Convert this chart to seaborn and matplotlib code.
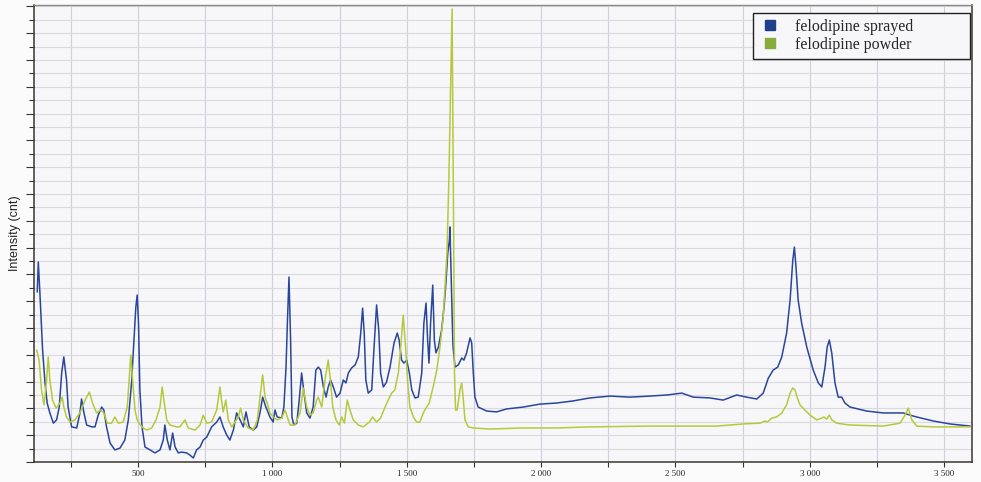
import matplotlib
matplotlib.use("Agg")
import matplotlib.pyplot as plt
from matplotlib.lines import Line2D
from matplotlib.ticker import MultipleLocator, FuncFormatter, NullFormatter
import pandas as pd
import seaborn as sns

# Raman spectra (wavenumber in cm-1, intensity in cnt)
sprayed_wavenumber = [
    125, 129, 135, 145, 154, 162, 172, 185, 197, 207, 216, 224, 234, 240, 253, 272,
    284, 290, 299, 309, 328, 340, 352, 365, 373, 383, 396, 414, 433, 451, 464, 476,
    485, 492, 497, 502, 507, 515, 526, 545, 563, 582, 594, 600, 609, 619, 629, 638,
    650, 662, 681, 693, 706, 718, 731, 743, 756, 774, 793, 805, 817, 830, 842, 855,
    867, 880, 892, 902, 914, 929, 942, 954, 964, 976, 991, 1003, 1010, 1018, 1035, 1043,
    1051, 1056, 1062, 1068, 1073, 1080, 1091, 1100, 1109, 1118, 1128, 1140, 1152, 1162, 1171, 1180,
    1190, 1200, 1208, 1217, 1227, 1239, 1252, 1264, 1274, 1283, 1295, 1308, 1320, 1329, 1336, 1342,
    1348, 1357, 1370, 1378, 1388, 1396, 1403, 1413, 1425, 1438, 1453, 1465, 1472, 1481, 1490, 1500,
    1510, 1519, 1531, 1543, 1556, 1564, 1572, 1578, 1583, 1589, 1597, 1603, 1609, 1618, 1630, 1639,
    1646, 1653, 1659, 1661, 1667, 1672, 1680, 1692, 1705, 1713, 1723, 1736, 1742, 1748, 1754, 1766,
    1798, 1835, 1872, 1934, 1996, 2058, 2120, 2182, 2257, 2331, 2406, 2468, 2524, 2567, 2629, 2678,
    2728, 2765, 2803, 2827, 2846, 2864, 2881, 2896, 2914, 2927, 2937, 2943, 2949, 2957, 2970, 2989,
    3013, 3032, 3045, 3057, 3065, 3073, 3082, 3094, 3106, 3119, 3131, 3150, 3212, 3274, 3348, 3373,
    3398, 3460, 3522, 3597,
]
sprayed_intensity = [
    6340, 7460, 6300, 4180, 2950, 2200, 1830, 1450, 1570, 2050, 3320, 3920, 3060, 2050, 1310, 1270,
    1830, 2350, 1830, 1380, 1310, 1310, 1750, 2050, 1940, 1310, 710, 450, 520, 820, 1570, 2950,
    4550, 5780, 6230, 5180, 2690, 1310, 560, 450, 340, 450, 820, 1380, 820, 450, 1080, 560,
    340, 370, 340, 260, 150, 450, 560, 820, 930, 1310, 1490, 1680, 1310, 1010, 820, 1190,
    1830, 1570, 1310, 1870, 1310, 1190, 1310, 1830, 2420, 2050, 1680, 1490, 1940, 1680, 1640, 2050,
    3540, 5180, 6900, 4550, 1680, 1380, 1450, 2310, 3320, 2570, 1830, 1640, 2050, 3430, 3540, 3430,
    2800, 2420, 2800, 3060, 2800, 2420, 2570, 3060, 2950, 3320, 3510, 3620, 3920, 4810, 5740, 4810,
    3060, 2570, 2690, 4180, 5860, 4920, 3320, 2800, 2980, 3540, 4440, 4810, 4550, 3800, 3690, 3800,
    3320, 2690, 2390, 2420, 3320, 5180, 5930, 4550, 3690, 5180, 6600, 4550, 4070, 4290, 4920, 5780,
    6680, 7800, 8280, 8770, 6420, 4360, 3540, 3620, 3880, 3800, 4070, 4630, 4440, 3320, 2420, 2050,
    1900, 1870, 1980, 2050, 2160, 2200, 2280, 2390, 2460, 2420, 2460, 2500, 2570, 2420, 2390, 2310,
    2500, 2420, 2350, 2570, 3130, 3430, 3540, 3920, 4810, 6040, 7530, 8020, 7270, 6040, 5180, 4290,
    3430, 2950, 2800, 3540, 4290, 4550, 4070, 2950, 2420, 2420, 2200, 2050, 1900, 1830, 1830, 1750,
    1680, 1530, 1420, 1340,
]

powder_wavenumber = [
    123, 132, 141, 150, 160, 166, 172, 182, 195, 210, 218, 224, 234, 247, 265, 284,
    303, 319, 331, 346, 361, 373, 386, 402, 414, 427, 445, 460, 467, 473, 480, 489,
    497, 514, 532, 551, 567, 582, 590, 598, 607, 619, 644, 656, 675, 687, 712, 731,
    743, 756, 774, 793, 805, 811, 817, 827, 836, 849, 861, 873, 882, 892, 910, 929,
    944, 954, 964, 973, 981, 991, 1003, 1018, 1035, 1047, 1056, 1066, 1084, 1103, 1115, 1128,
    1140, 1152, 1165, 1171, 1184, 1196, 1208, 1215, 1225, 1237, 1249, 1258, 1268, 1279, 1289, 1301,
    1320, 1338, 1361, 1373, 1388, 1403, 1415, 1431, 1444, 1456, 1469, 1478, 1487, 1496, 1504, 1512,
    1525, 1537, 1549, 1562, 1574, 1584, 1593, 1602, 1612, 1624, 1635, 1642, 1650, 1657, 1669, 1674,
    1678, 1682, 1688, 1698, 1705, 1711, 1717, 1729, 1748, 1810, 1934, 2058, 2182, 2406, 2654, 2753,
    2815, 2834, 2842, 2859, 2877, 2896, 2914, 2927, 2937, 2945, 2954, 2964, 2982, 3001, 3026, 3045,
    3053, 3063, 3073, 3082, 3100, 3150, 3274, 3336, 3355, 3367, 3380, 3398, 3460, 3597,
]
powder_intensity = [
    4180, 3800, 2690, 2130, 3060, 3920, 3060, 2310, 2010, 2200, 2420, 2050, 1680, 1490, 1570, 1830,
    2310, 2610, 2200, 1830, 1940, 1830, 1450, 1450, 1680, 1450, 1490, 2050, 3060, 3990, 3060, 1940,
    1570, 1310, 1190, 1270, 1570, 2050, 2800, 2200, 1570, 1380, 1310, 1310, 1570, 1270, 1190, 1380,
    1750, 1450, 1490, 1940, 2800, 2310, 1870, 2310, 1570, 1310, 1490, 1680, 2010, 1570, 1270, 1190,
    1570, 2420, 3250, 2420, 2200, 1830, 1680, 1570, 1640, 1940, 1680, 1380, 1380, 1830, 2760, 2050,
    1750, 1830, 2310, 2420, 2050, 3060, 3800, 3170, 2050, 1570, 1380, 1680, 1450, 2310, 1940, 1570,
    1380, 1310, 1490, 1680, 1490, 1640, 1940, 2310, 2570, 2690, 3320, 4290, 5480, 4290, 2950, 2050,
    1680, 1490, 1490, 1830, 2050, 2200, 2570, 2950, 3430, 4290, 5300, 6420, 7800, 10520, 16900, 9770,
    3320, 1940, 1940, 2690, 2950, 2310, 1570, 1310, 1270, 1230, 1270, 1270, 1310, 1340, 1340, 1420,
    1450, 1530, 1490, 1640, 1680, 1830, 2130, 2570, 2760, 2690, 2390, 2130, 1940, 1750, 1570, 1640,
    1680, 1600, 1750, 1570, 1450, 1380, 1340, 1450, 1750, 2010, 1570, 1340, 1310, 1310,
]

series_labels = ["felodipine sprayed", "felodipine powder"]
series_colors = ["#2a469c", "#b6c93c"]
legend_colors = ["#1f3f8c", "#86ad3a"]


def main() -> int:
    df = pd.concat([
        pd.DataFrame({"wavenumber": sprayed_wavenumber, "intensity": sprayed_intensity,
                      "sample": series_labels[0]}),
        pd.DataFrame({"wavenumber": powder_wavenumber, "intensity": powder_intensity,
                      "sample": series_labels[1]}),
    ], ignore_index=True)

    sns.set_theme(style="white")
    fig = plt.figure(figsize=(9.81, 4.82), dpi=100, facecolor="#fbfbfb")
    ax = fig.add_axes([34 / 981, 20 / 482, 938 / 981, 457 / 482])
    ax.set_facecolor("#f7f7fa")

    sns.lineplot(data=df, x="wavenumber", y="intensity", hue="sample",
                 hue_order=series_labels, palette=series_colors,
                 sort=False, estimator=None, linewidth=1.1, legend=False, ax=ax)

    ax.set_xlim(113, 3604)
    ax.set_ylim(0, 17050)

    ax.xaxis.set_major_locator(MultipleLocator(500))
    ax.xaxis.set_minor_locator(MultipleLocator(250))
    ax.xaxis.set_major_formatter(FuncFormatter(lambda v, _: f"{int(v):,}".replace(",", " ")))
    ax.yaxis.set_major_locator(MultipleLocator(1000))
    ax.yaxis.set_minor_locator(MultipleLocator(500))
    ax.yaxis.set_major_formatter(NullFormatter())

    ax.grid(True, which="both", axis="x", color="#cfcfdc", linewidth=0.8)
    ax.grid(True, which="both", axis="y", color="#dadade", linewidth=0.8)
    ax.set_axisbelow(True)

    ax.tick_params(axis="x", which="both", direction="out", length=3.5, width=0.8,
                   color="#333333", bottom=True, labelsize=6.5, pad=2.5)
    ax.tick_params(axis="y", which="major", direction="out", length=6, width=0.8,
                   color="#333333", left=True)
    ax.tick_params(axis="y", which="minor", direction="out", length=3.5, width=0.8,
                   color="#333333", left=True)
    for label in ax.get_xticklabels():
        label.set_fontfamily(["Liberation Serif", "DejaVu Serif"])

    for side in ["left", "bottom", "right"]:
        ax.spines[side].set_color("#3a3530")
        ax.spines[side].set_linewidth(1.1)
    ax.spines["top"].set_color("#8a8a8a")
    ax.spines["top"].set_linewidth(1.0)

    ax.set_xlabel("")
    ax.set_ylabel("Intensity (cnt)", fontsize=9, family=["Liberation Sans", "DejaVu Sans"],
                  color="#222222")
    ax.yaxis.set_label_coords(-0.014, 0.5)

    handles = [Line2D([], [], marker="s", linestyle="", markersize=7, color=c,
                      markeredgecolor=c) for c in legend_colors]
    leg = ax.legend(handles, series_labels, loc="upper left", mode="expand",
                    bbox_to_anchor=(0.7665, 0.5, 0.2315, 0.4825),
                    prop={"family": ["Liberation Serif", "DejaVu Serif"], "size": 11.5},
                    frameon=True, fancybox=False, framealpha=1.0,
                    borderpad=0.35, labelspacing=0.15, handlelength=1.4,
                    handletextpad=0.9, borderaxespad=0.0)
    leg.get_frame().set_edgecolor("#222222")
    leg.get_frame().set_linewidth(1.0)
    leg.get_frame().set_facecolor("#f7f7fa")

    fig.savefig("out.png", dpi=100, facecolor=fig.get_facecolor())
    plt.close(fig)
    return 0


if __name__ == "__main__":
    raise SystemExit(main())
